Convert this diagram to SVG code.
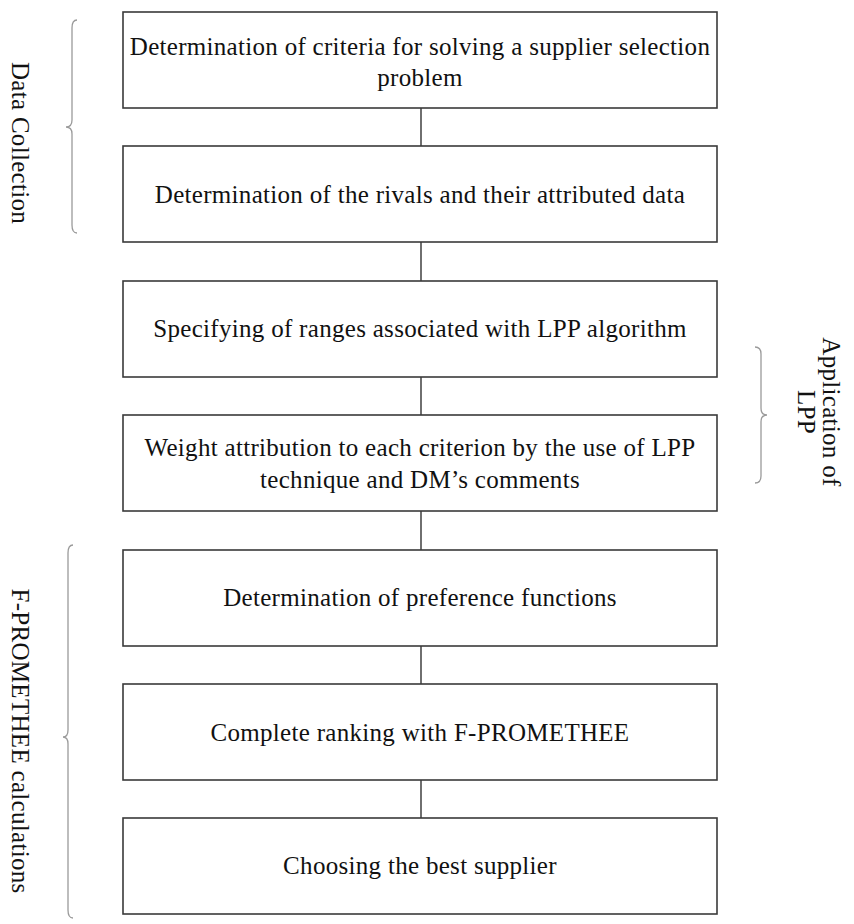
<svg xmlns="http://www.w3.org/2000/svg" width="854" height="924" viewBox="0 0 854 924">
<style>
.box{fill:#fff;stroke:#3a3a3a;stroke-width:1.6}
.t{font-family:"Liberation Serif","Times New Roman",serif;font-size:25px;fill:#111;text-anchor:middle;letter-spacing:0.3px}
.conn{stroke:#333;stroke-width:1.4;fill:none}
.brace{stroke:#9a9a9a;stroke-width:1.3;fill:none}
</style>
<rect width="854" height="924" fill="#fff"/>
<g id="connectors">
<line class="conn" x1="421" y1="108" x2="421" y2="146"/>
<line class="conn" x1="421" y1="242" x2="421" y2="281"/>
<line class="conn" x1="421" y1="377" x2="421" y2="415"/>
<line class="conn" x1="421" y1="511" x2="421" y2="550"/>
<line class="conn" x1="421" y1="646" x2="421" y2="684"/>
<line class="conn" x1="421" y1="780" x2="421" y2="818"/>
</g>
<g id="n1"><rect class="box" x="123" y="12" width="594" height="96"/>
<text class="t" x="420" y="55">Determination of criteria for solving a supplier selection</text>
<text class="t" x="420" y="86">problem</text></g>
<g id="n2"><rect class="box" x="123" y="146" width="594" height="96"/>
<text class="t" x="420" y="203">Determination of the rivals and their attributed data</text></g>
<g id="n3"><rect class="box" x="123" y="281" width="594" height="96"/>
<text class="t" x="420" y="337">Specifying of ranges associated with LPP algorithm</text></g>
<g id="n4"><rect class="box" x="123" y="415" width="594" height="96"/>
<text class="t" x="420" y="456">Weight attribution to each criterion by the use of LPP</text>
<text class="t" x="420" y="488">technique and DM’s comments</text></g>
<g id="n5"><rect class="box" x="123" y="550" width="594" height="96"/>
<text class="t" x="420" y="606">Determination of preference functions</text></g>
<g id="n6"><rect class="box" x="123" y="684" width="594" height="96"/>
<text class="t" x="420" y="741">Complete ranking with F-PROMETHEE</text></g>
<g id="n7"><rect class="box" x="123" y="818" width="594" height="96"/>
<text class="t" x="420" y="874">Choosing the best supplier</text></g>
<g id="group-data">
<path class="brace" d="M77,20 Q72,20 72,28 L72,120 Q72,127 66,127 Q72,127 72,134 L72,225 Q72,233 77,233"/>
<text class="t" transform="translate(12,143) rotate(90)">Data Collection</text>
</g>
<g id="group-lpp">
<path class="brace" d="M755,347 Q761,347 761,354 L761,408 Q761,415 767,415 Q761,415 761,422 L761,476 Q761,483 755,483"/>
<text class="t" transform="translate(823,412) rotate(90)">Application of</text>
<text class="t" transform="translate(798,412) rotate(90)">LPP</text>
</g>
<g id="group-fp">
<path class="brace" d="M73,545 Q68,545 68,553 L68,730 Q68,737 63,737 Q68,737 68,744 L68,910 Q68,918 73,918"/>
<text class="t" transform="translate(12,741) rotate(90)">F-PROMETHEE calculations</text>
</g>
</svg>
